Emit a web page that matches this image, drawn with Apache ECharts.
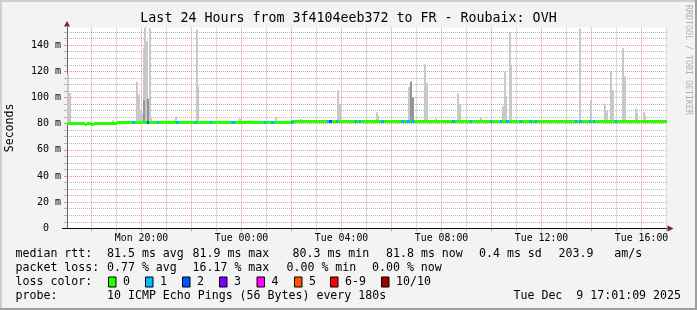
<!DOCTYPE html>
<html><head><meta charset="utf-8">
<script src="https://cdn.jsdelivr.net/npm/echarts@6/dist/echarts.min.js"></script>
<style>html,body{margin:0;padding:0;background:#f3f3f3}#c{width:697px;height:310px}</style>
</head><body><div id="c"></div>
<script>
// ---------- DATA (time = hours since Mon 00:00) ----------
const T0 = 17 + 1/60 + 9/3600;      // Mon 17:01:09
const T1 = T0 + 24;                 // Tue 17:01:09
const Y_MAX = 153.5;

const xMinorHours = [19,21,23,25,27,29,31,33,35,37,39,41];
const xMajorHours = [18,20,22,24,26,28,30,32,34,36,38,40];
const xLabelHours = [20,24,28,32,36,40];
const xLabelTexts = ['Mon 20:00','Tue 00:00','Tue 04:00','Tue 08:00','Tue 12:00','Tue 16:00'];

const yMinorValues = [5,10,15,25,30,35,45,50,55,65,70,75,85,90,95,105,110,115,125,130,135,145,150];
const yMajorValues = [20,40,60,80,100,120,140];
const yLabelValues = [0,20,40,60,80,100,120,140];
const yLabelTexts = ['0  ','20 m','40 m','60 m','80 m','100 m','120 m','140 m'];

// median rtt segments [start h, end h, ms]
const medianSegs = [
  [T0, 17.73, 80.4],
  [17.73, 17.83, 79.6],
  [17.83, 17.96, 80.4],
  [17.96, 18.10, 79.6],
  [18.10, 19.02, 80.4],
  [19.02, 25.99, 81.2],
  [25.99, T1, 81.8]
];

// packet loss segments [start h, end h, lost pings]
const lossSegs = [
  [19.62,19.74,1],[20.22,20.30,2],[20.62,20.70,1],[21.38,21.50,1],[22.14,22.22,1],
  [22.74,22.80,1],[23.58,23.74,1],[24.90,24.98,1],[25.18,25.30,1],[25.98,26.10,1],
  [27.42,27.50,1],[27.50,27.62,2],[27.78,27.86,1],[28.54,28.62,1],[28.70,28.78,1],
  [29.58,29.70,1],[30.38,30.50,1],[30.58,30.74,1],[30.78,30.90,1],[32.42,32.54,1],
  [33.14,33.22,1],[33.94,34.02,1],[34.34,34.42,1],[34.58,34.70,1],[35.14,35.22,1],
  [35.54,35.62,1],[35.74,35.82,1],[37.34,37.42,1],[37.50,37.62,1],[37.90,37.98,1],
  [38.06,38.14,1],[38.94,39.02,1]
];

// smoke (max ping) [h, ms]
const smokeLight = [
  [17.07,118.4],[17.14,103.5],[18.86,82.6],
  [19.82,112],[19.90,102.5],[19.98,91],[20.06,88],[20.10,138],[20.15,154],[20.21,143],[20.32,153],[20.38,84],
  [21.38,85.5],[22.20,152],[22.27,108.6],[23.94,84],[24.34,82.5],[25.38,85],[26.36,83.5],
  [27.86,105.6],[27.93,95],[28.92,82.5],[29.40,88.7],[29.46,86],
  [30.70,108],[30.78,112],[30.86,100],
  [31.34,125.2],[31.40,111],[31.54,83],[31.78,84],
  [32.66,103],[32.73,95],[33.58,85],[33.86,83],
  [34.46,93.3],[34.52,119.6],[34.58,101],[34.72,149.5],[34.78,124],[35.48,83],
  [37.54,152.8],[37.98,98],[38.54,95],[38.60,89.7],[38.78,120.4],[38.84,105.6],
  [39.26,137.7],[39.32,116],[39.78,91.6],[39.82,88],[40.08,89],[40.14,86]
];
// denser smoke [h, ms]
const smokeDark = [[20.10,98],[20.26,99],[30.78,112],[30.86,100]];

const lossColors = ['#26ff00','#00b8ff','#0059ff','#7e00ff','#ff00ff','#ff5500','#ff0000','#a10000'];
const lossLabels = ['0','1','2','3','4','5','6-9','10/10'];

const rttLabel = 'median rtt:';
const rttStats = ['81.5 ms avg','81.9 ms max','80.3 ms min','81.8 ms now','0.4 ms sd','203.9   am/s'];
const lossLabel = 'packet loss:';
const lossStats = ['0.77 % avg','16.17 % max','0.00 % min','0.00 % now'];
const colorLabel = 'loss color:';
const probeLabel = 'probe:';
const probeText = '10 ICMP Echo Pings (56 Bytes) every 180s';
const stampText = 'Tue Dec  9 17:01:09 2025';
const titleText = 'Last 24 Hours from 3f4104eeb372 to FR - Roubaix: OVH';
const yName = 'Seconds';
const watermark = 'RRDTOOL / TOBI OETIKER';

// ---------- LAYOUT ----------
const G = {left: 67, top: 27.5, width: 600, height: 200.8};
const FONT = '"DejaVu Sans Mono", monospace';
const LEG_FONT = '11.6px ' + FONT;
const rttX = [107, 192.5, 292.5, 386, 479, 558.5];
const lossX = [107, 192.5, 286.5, 372];
const boxX = [108, 145, 182, 219, 256.5, 294, 330, 381];
const rowY = [254, 268, 282, 296];
const SMOKE_W = 0.08;

function medianAt(h){
  for (const s of medianSegs) if (h >= s[0] && h < s[1]) return s[2];
  return medianSegs[medianSegs.length-1][2];
}

const chart = echarts.init(document.getElementById('c'), null, {renderer:'canvas'});

const gridGray = 'rgba(143,143,143,0.65)';
const gridRed = 'rgba(222,79,79,0.6)';

function smokeRender(color){
  return function(params, api){
    const h = api.value(0);
    const top = Math.min(api.value(1), Y_MAX);
    const base = medianAt(h);
    const pa = api.coord([h - SMOKE_W/2, top]);
    const pb = api.coord([h + SMOKE_W/2, base]);
    const x0 = Math.round(pa[0]), x1 = Math.round(pb[0]);
    return {type:'rect', shape:{x:x0, y:pa[1], width:Math.max(1, x1-x0), height:pb[1]-pa[1]}, style:{fill:color}};
  };
}

const graphics = [];
// borders
graphics.push({type:'rect', shape:{x:0,y:0,width:697,height:2}, style:{fill:'#cfcfcf'}, silent:true});
graphics.push({type:'rect', shape:{x:0,y:0,width:2,height:310}, style:{fill:'#cfcfcf'}, silent:true});
graphics.push({type:'rect', shape:{x:0,y:308,width:697,height:2}, style:{fill:'#9e9e9e'}, silent:true});
graphics.push({type:'rect', shape:{x:695,y:0,width:2,height:310}, style:{fill:'#9e9e9e'}, silent:true});
// title
graphics.push({type:'text', x:348.5, y:19, style:{text:titleText, font:'13.3px '+FONT, fill:'#000', align:'center', verticalAlign:'middle'}, silent:true});
// watermark
graphics.push({type:'text', x:688, y:60, rotation:-Math.PI/2, style:{text:watermark, font:'8.3px '+FONT, fill:'#b0b0b0', align:'center', verticalAlign:'middle'}, silent:true});
// arrows
graphics.push({type:'polygon', shape:{points:[[67,21],[64,26.5],[70,26.5]]}, style:{fill:'#801f1f'}, silent:true});
graphics.push({type:'polygon', shape:{points:[[673.5,228.5],[667.5,225.5],[667.5,231.5]]}, style:{fill:'#801f1f'}, silent:true});
graphics.push({type:'line', shape:{x1:62,y1:228.5,x2:67,y2:228.5}, style:{stroke:'#101010', lineWidth:1}, silent:true});
// legend rows
function txt(s, x, y){ graphics.push({type:'text', x:x, y:y, style:{text:s, font:LEG_FONT, fill:'#000', align:'left', verticalAlign:'middle'}, silent:true}); }
txt(rttLabel, 15.5, rowY[0]);
rttStats.forEach((s,i)=>txt(s, rttX[i], rowY[0]));
txt(lossLabel, 15.5, rowY[1]);
lossStats.forEach((s,i)=>txt(s, lossX[i], rowY[1]));
txt(colorLabel, 15.5, rowY[2]);
lossLabels.forEach((s,i)=>{
  graphics.push({type:'rect', shape:{x:boxX[i]+0.5, y:rowY[2]-5, width:7.5, height:10}, style:{fill:lossColors[i], stroke:'#000', lineWidth:1}, silent:true});
  txt(s, boxX[i]+15, rowY[2]);
});
txt(probeLabel, 15.5, rowY[3]);
txt(probeText, 107, rowY[3]);
graphics.push({type:'text', x:681, y:rowY[3], style:{text:stampText, font:LEG_FONT, fill:'#000', align:'right', verticalAlign:'middle'}, silent:true});

const option = {
  animation: false,
  backgroundColor: '#f3f3f3',
  grid: {left:G.left, top:G.top, width:G.width, height:G.height, show:true, backgroundColor:'#ffffff', borderWidth:0,
         containLabel:false, outerBoundsMode:'none'},
  xAxis: [
    {type:'value', position:'bottom', min:T0, max:T1,
     axisLine:{show:false}, axisLabel:{show:false},
     axisTick:{show:true, length:3, customValues:xMinorHours, lineStyle:{color:gridGray}},
     splitLine:{show:true, lineStyle:{color:gridGray, type:[1,1], width:1}}},
    {type:'value', position:'bottom', min:T0, max:T1,
     axisLine:{show:true, lineStyle:{color:'#101010', width:1}},
     axisTick:{show:true, length:3, customValues:xMajorHours, lineStyle:{color:gridRed}},
     axisLabel:{show:true, customValues:xLabelHours, margin:5, color:'#000', fontFamily:FONT, fontSize:9.9,
       formatter:function(v){ const i = xLabelHours.indexOf(Math.round(v)); return i>=0 ? xLabelTexts[i] : ''; }},
     splitLine:{show:true, lineStyle:{color:gridRed, type:[1,1], width:1}}}
  ],
  yAxis: [
    {type:'value', position:'left', min:0, max:Y_MAX,
     axisLine:{show:false}, axisLabel:{show:false},
     axisTick:{show:true, length:3, customValues:yMinorValues, lineStyle:{color:gridGray}},
     splitLine:{show:true, lineStyle:{color:gridGray, type:[1,1], width:1}}},
    {type:'value', position:'left', min:0, max:Y_MAX,
     name:yName, nameLocation:'middle', nameGap:51, nameRotate:90,
     nameTextStyle:{color:'#000', fontFamily:FONT, fontSize:11.6},
     axisLine:{show:true, lineStyle:{color:'#606060', width:1}},
     axisTick:{show:true, length:3, customValues:yMajorValues, lineStyle:{color:gridRed}},
     axisLabel:{show:true, customValues:yLabelValues, margin:6, color:'#000', fontFamily:FONT, fontSize:10,
       formatter:function(v){ const i = yLabelValues.indexOf(Math.round(v)); return i>=0 ? yLabelTexts[i] : ''; }},
     splitLine:{show:true, lineStyle:{color:gridRed, type:[1,1], width:1}}}
  ],
  series: [
    {type:'custom', name:'smoke', xAxisIndex:1, yAxisIndex:1, silent:true, clip:true,
     encode:{x:0, y:1}, data:smokeLight, renderItem:smokeRender('#c8c8c8')},
    {type:'custom', name:'smokeDense', xAxisIndex:1, yAxisIndex:1, silent:true, clip:true,
     encode:{x:0, y:1}, data:smokeDark, renderItem:smokeRender('#959595')},
    {type:'custom', name:'median', xAxisIndex:1, yAxisIndex:1, silent:true, clip:true,
     encode:{x:[0,1], y:2}, data:medianSegs,
     renderItem:function(params, api){
       const v = api.value(2);
       const p0 = api.coord([api.value(0), v]), p1 = api.coord([api.value(1), v]);
       const x0 = Math.round(p0[0]), x1 = Math.round(p1[0]);
       return {type:'rect', shape:{x:x0, y:Math.round(p0[1]-1.5), width:Math.max(1,x1-x0), height:3}, style:{fill:lossColors[0]}};
     }},
    {type:'custom', name:'loss', xAxisIndex:1, yAxisIndex:1, silent:true, clip:true,
     encode:{x:[0,1]}, data:lossSegs,
     renderItem:function(params, api){
       const h0 = api.value(0), h1 = api.value(1), n = api.value(2);
       const v = medianAt(h0);
       const p0 = api.coord([h0, v]), p1 = api.coord([h1, v]);
       const x0 = Math.round(p0[0]), x1 = Math.round(p1[0]);
       const ci = n >= 10 ? 7 : (n >= 6 ? 6 : n);
       return {type:'rect', shape:{x:x0, y:Math.round(p0[1]-1.5), width:Math.max(1,x1-x0), height:3}, style:{fill:lossColors[ci]}};
     }}
  ],
  graphic: graphics
};
chart.setOption(option);
</script>
</body></html>
